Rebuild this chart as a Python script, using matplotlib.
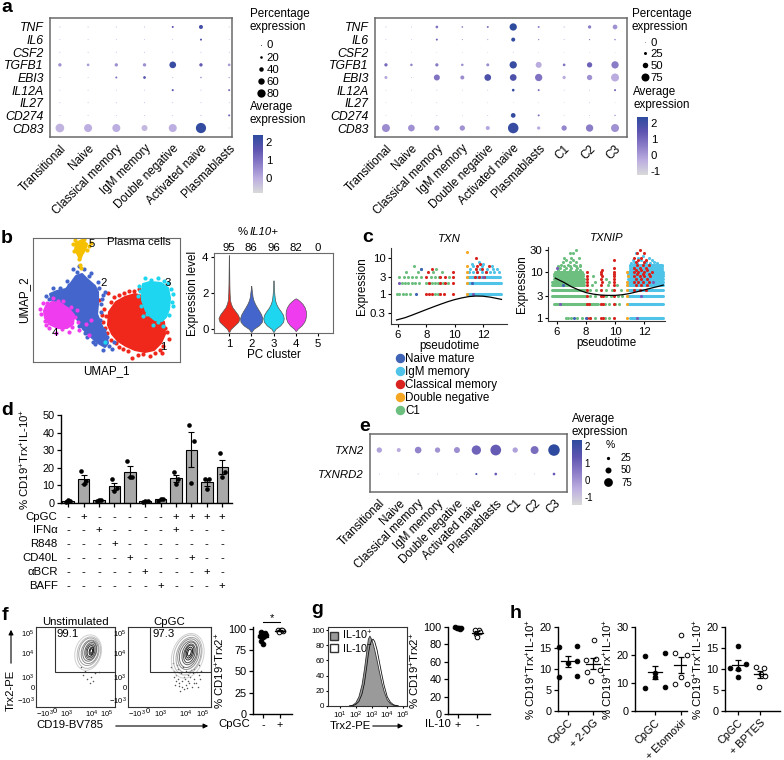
import numpy as np
import matplotlib
matplotlib.use('Agg')
import matplotlib.pyplot as plt
import matplotlib.transforms as mtransforms
from matplotlib.colors import LinearSegmentedColormap, Normalize
from matplotlib.cm import ScalarMappable
from matplotlib.patches import Ellipse, Polygon, Rectangle, Patch, FancyArrowPatch
from matplotlib.lines import Line2D
from matplotlib.ticker import NullLocator

plt.rcParams['font.family'] = ['Liberation Sans', 'DejaVu Sans']
plt.rcParams['mathtext.fontset'] = 'custom'
plt.rcParams['mathtext.rm'] = 'Liberation Sans'
plt.rcParams['mathtext.it'] = 'Liberation Sans:italic'
plt.rcParams['mathtext.bf'] = 'Liberation Sans:bold'
plt.rcParams['axes.unicode_minus'] = False
plt.rcParams['font.size'] = 8.2

# ---------------- data ----------------
cells7 = ['Transitional', 'Naive', 'Classical memory', 'IgM memory',
          'Double negative', 'Activated naive', 'Plasmablasts']
cells10 = cells7 + ['C1', 'C2', 'C3']
genes_a = ['TNF', 'IL6', 'CSF2', 'TGFB1', 'EBI3', 'IL12A', 'IL27', 'CD274', 'CD83']

# panel a (left): percentage expressing / average expression
a1_pct = [
    [2, 2, 2, 2, 14, 35, 2],
    [1, 1, 1, 1, 1, 14, 1],
    [1, 1, 1, 1, 1, 1, 1],
    [28, 21, 28, 28, 63, 28, 21],
    [1, 1, 14, 21, 2, 8, 6],
    [1, 1, 1, 1, 14, 2, 14],
    [1, 1, 1, 1, 1, 1, 1],
    [1, 1, 1, 1, 1, 2, 14],
    [84, 77, 77, 56, 77, 100, 3],
]
a1_avg = [
    [0.3, 0.3, 0.3, 0.3, 1.5, 2.0, 0.3],
    [0.3, 0.3, 0.3, 0.3, 0.3, 1.8, 0.3],
    [0.5, 0.5, 0.5, 0.5, 0.5, 0.5, 0.5],
    [0.5, 0.3, 0.5, 0.5, 2.2, 1.5, 0.3],
    [0.3, 0.3, 1.0, 1.8, 0.3, 0.8, 0.5],
    [0.3, 0.3, 0.3, 0.3, 1.8, 0.3, 1.2],
    [0.5, 0.5, 0.5, 0.5, 0.5, 0.5, 0.5],
    [0.3, 0.3, 0.3, 0.3, 0.3, 0.5, 1.3],
    [-0.1, 0.0, 0.0, -0.2, 0.0, 2.3, -0.3],
]
a1_size_legend = [0, 20, 40, 60, 80]

# panel a (right)
a2_pct = [
    [3, 3, 22, 12, 15, 68, 15, 5, 28, 42],
    [2, 2, 15, 5, 5, 35, 8, 3, 8, 10],
    [1, 1, 1, 1, 1, 2, 1, 1, 1, 1],
    [28, 20, 28, 20, 25, 68, 55, 22, 48, 68],
    [25, 3, 55, 35, 62, 62, 68, 28, 48, 75],
    [2, 2, 3, 2, 3, 22, 15, 3, 3, 15],
    [1, 1, 2, 1, 1, 1, 1, 1, 3, 1],
    [2, 1, 3, 2, 3, 42, 15, 2, 3, 8],
    [75, 62, 48, 48, 35, 100, 28, 48, 68, 75],
]
a2_avg = [
    [0.5, 0.2, 0.8, 0.5, 0.8, 2.4, 0.5, 0.2, 0.6, 0.2],
    [0.5, 0.3, 1.2, 0.5, 0.3, 2.3, 0.5, 0.3, 0.5, 0.5],
    [0.0, 0.0, 0.0, 0.0, 0.0, 0.5, 0.0, 0.0, 0.0, 0.0],
    [1.0, 0.5, 0.6, 0.3, 0.3, 2.2, -0.3, 0.8, 1.2, 0.6],
    [-0.2, 0.0, 0.8, 0.3, 1.8, 1.8, 0.8, -0.3, 0.2, -0.3],
    [0.0, 0.0, 0.0, 0.0, 0.0, 2.2, 1.0, 0.0, 0.0, 1.2],
    [0.0, 0.0, 0.0, 0.0, 0.0, 0.0, 0.0, 0.0, 0.0, 0.0],
    [0.0, 0.0, 0.0, 0.0, 0.0, 2.3, 0.8, 0.0, 0.0, 0.5],
    [0.3, 0.2, 0.3, 0.2, -0.2, 2.2, -0.3, 0.4, 0.6, 0.2],
]
a2_size_legend = [0, 25, 50, 75]

# panel b: UMAP cluster outlines and outlying cells (UMAP units)
umap_colors = ['#f0281c', '#4466cc', '#1ed6ef', '#ee3cee', '#f5c000']
umap_hulls = [
    [(7.6, 5.0), (8.3, 6.0), (9.2, 6.5), (10.2, 6.8), (11.2, 6.5), (11.7, 6.0), (12.2, 5.1),
     (12.7, 4.4), (13.1, 4.0), (13.2, 2.8), (12.8, 1.9), (12.1, 1.2), (11.2, 1.0), (10.2, 1.2),
     (9.3, 1.6), (8.5, 2.1), (7.9, 2.8), (7.5, 3.7)],
    [(4.3, 8.6), (4.9, 8.8), (5.4, 8.3), (6.2, 7.6), (6.5, 7.0), (6.5, 5.8), (6.4, 4.8),
     (6.8, 3.8), (7.3, 2.8), (7.5, 1.9), (7.2, 1.5), (6.5, 1.9), (5.7, 2.6), (5.0, 3.3),
     (4.4, 4.3), (3.8, 5.2), (2.8, 5.8), (1.9, 6.2), (1.7, 6.8), (2.4, 7.1), (3.3, 7.3), (3.8, 7.9)],
    [(11.0, 7.8), (11.7, 8.0), (12.8, 7.9), (13.5, 7.4), (13.7, 6.4), (13.6, 5.3), (13.3, 4.5),
     (12.9, 4.1), (12.2, 4.2), (11.7, 4.6), (11.3, 5.1), (10.9, 6.2), (10.9, 7.1)],
    [(1.3, 5.6), (1.9, 6.0), (2.7, 5.9), (3.6, 5.3), (4.1, 4.7), (4.0, 3.8), (3.4, 3.4),
     (2.5, 3.4), (1.6, 3.8), (1.2, 4.4), (1.1, 5.1)],
    [(4.3, 11.9), (4.9, 12.2), (5.4, 11.8), (5.2, 11.2), (4.9, 10.7), (4.7, 10.2), (4.5, 10.7), (4.2, 11.2)],
]
umap_cells = [
    [(7.0, 4.0), (7.1, 5.3), (7.8, 6.0), (8.6, 6.7), (9.6, 7.1), (10.6, 7.3), (11.6, 6.9), (12.5, 4.7),
     (13.2, 3.4), (13.6, 2.3), (12.7, 1.2), (11.7, 0.6), (10.5, 0.7), (9.5, 1.1), (8.6, 1.5), (7.8, 2.2),
     (6.9, 4.7), (6.6, 6.2), (7.5, 6.9), (9.9, 0.4), (12.9, 0.9), (8.0, 3.0), (7.3, 4.6), (8.1, 6.5),
     (9.1, 6.9), (10.1, 7.1), (11.0, 0.8), (12.2, 0.9), (13.4, 3.0), (13.0, 1.6), (8.3, 1.9), (7.4, 2.9),
     (9.0, 1.3), (11.9, 6.4), (12.3, 5.4), (7.2, 3.4)],
    [(6.9, 6.3), (7.2, 7.0), (6.5, 8.0), (5.8, 8.9), (4.0, 9.3), (3.4, 8.1), (2.0, 7.4), (1.3, 6.6),
     (5.2, 2.9), (6.0, 2.0), (7.0, 1.2), (7.9, 1.3), (8.1, 2.0), (7.1, 3.2), (6.2, 4.6), (2.6, 5.1),
     (3.2, 4.7), (4.6, 9.6), (5.1, 9.3), (6.8, 5.0), (6.6, 7.4), (5.6, 8.6), (4.4, 9.0), (3.6, 7.7),
     (2.7, 7.4), (1.6, 6.3), (2.3, 6.0), (6.7, 4.2), (7.4, 2.5), (7.6, 1.6), (6.2, 1.8), (5.4, 2.5),
     (4.6, 3.6), (4.0, 4.6), (6.8, 5.8), (7.0, 6.7)],
    [(10.6, 7.6), (11.2, 8.4), (12.5, 8.4), (13.5, 7.9), (14.0, 6.8), (14.0, 5.6), (13.0, 3.6),
     (12.0, 3.7), (11.0, 4.6), (10.5, 6.6), (7.2, 2.0), (10.8, 5.6), (11.8, 8.2), (13.1, 8.1),
     (13.8, 7.3), (13.9, 6.0), (13.6, 4.7), (12.5, 4.0), (11.4, 4.8), (10.7, 7.1)],
    [(0.8, 4.8), (1.0, 5.9), (1.6, 3.4), (2.3, 2.9), (3.6, 3.0), (4.5, 4.0), (4.6, 3.2), (5.3, 3.8),
     (5.8, 4.2), (4.4, 5.2), (5.6, 2.7), (0.7, 5.3), (2.0, 6.4), (3.0, 6.1), (1.2, 4.1), (1.3, 3.7),
     (2.9, 3.3), (3.9, 3.5), (4.2, 4.5), (3.8, 5.5), (2.5, 6.1), (1.4, 5.9)],
    [(4.0, 11.8), (5.6, 11.6), (4.7, 9.7), (4.8, 9.4), (5.8, 11.9), (4.6, 10.3), (4.2, 12.2),
     (5.1, 12.3), (5.4, 11.2), (4.1, 11.1)],
]
umap_labels = ['1', '2', '3', '4', '5']
umap_label_pos = [(13.0, 1.5), (7.1, 7.9), (13.5, 7.9), (2.2, 2.9), (5.9, 11.8)]

# panel b: violins of IL10 expression per PC cluster (half-width profiles)
pc_clusters = ['1', '2', '3', '4', '5']
il10_pct = [95, 86, 96, 82, 0]
vio_y = [[-0.15, 0.0, 0.2, 0.4, 0.6, 0.8, 1.0, 1.2, 1.4, 1.6, 2.0, 2.5, 3.0, 3.5, 4.1],
         [-0.15, 0.0, 0.2, 0.4, 0.6, 0.8, 1.0, 1.2, 1.4, 1.6, 1.8, 2.0, 2.2, 2.4],
         [-0.15, 0.0, 0.2, 0.4, 0.6, 0.8, 1.0, 1.2, 1.4, 1.6, 1.9, 2.2, 2.5, 2.7],
         [-0.1, 0.0, 0.2, 0.4, 0.6, 0.8, 1.0, 1.2, 1.4, 1.55, 1.65, 1.7]]
vio_w = [[0.02, 0.08, 0.25, 0.42, 0.47, 0.40, 0.28, 0.16, 0.09, 0.05, 0.03, 0.02, 0.015, 0.01, 0.005],
         [0.02, 0.10, 0.34, 0.48, 0.50, 0.45, 0.36, 0.26, 0.17, 0.10, 0.06, 0.04, 0.02, 0.005],
         [0.02, 0.08, 0.30, 0.43, 0.46, 0.42, 0.32, 0.20, 0.12, 0.07, 0.04, 0.02, 0.01, 0.005],
         [0.02, 0.07, 0.26, 0.38, 0.44, 0.46, 0.45, 0.40, 0.30, 0.18, 0.08, 0.01]]

# panel c: pseudotime vs expression (level -> pseudotime values), dense rows as spans
ctypes = ['Naive mature', 'IgM memory', 'Classical memory', 'Double negative', 'C1']
ccolors = ['#3f63b5', '#4fc3e8', '#d9231f', '#f5a623', '#6dbf80']
purple_c = '#7a5cb8'
txn_green = {1: [5.9, 6.1, 6.35, 6.6, 6.85, 8.6, 8.8], 2: [6.3, 6.5, 6.7, 7.0, 7.2, 7.5, 8.0, 8.2, 8.4, 8.6, 8.8, 9.0, 9.2, 9.5],
             3: [6.1, 6.4, 6.7, 7.0, 7.3, 7.6, 8.3, 8.6, 8.9, 9.6], 4: [6.6, 7.4, 8.5, 9.1], 5: [7.6, 8.7], 6: [7.1]}
txn_red = {1: [8.0, 8.2, 8.4, 9.0, 9.25, 9.9], 2: [8.2, 8.95, 9.3, 9.9], 3: [8.0, 9.0, 9.3, 9.9, 11.4, 11.7, 12.1],
           4: [8.1, 9.9, 11.6, 12.2], 5: [8.4, 11.5, 11.9], 6: [11.6, 12.4], 7: [11.8], 10: [11.5]}
txn_cyan_span = [(1, 10.9, 13.3), (2, 10.9, 13.3), (3, 10.9, 13.2)]
txn_cyan = {4: [11.0, 11.3, 11.6, 11.9, 12.2, 12.5, 12.8, 13.1], 5: [11.1, 11.5, 11.8, 12.3, 12.7, 13.0],
            6: [11.3, 11.9, 12.6], 7: [11.2, 12.0], 8: [11.7]}
txn_yellow = {1: [10.85], 2: [10.85], 3: [10.85], 4: [10.85], 6: [10.9], 15: [10.85]}
txn_blue = {1: [7.25], 5: [7.6], 2: [11.2]}
txn_purple = {2: [6.1], 1: [11.3], 3: [12.0]}
txn_fit_x = [5.9, 6.5, 7.0, 7.5, 8.0, 8.5, 9.0, 9.5, 10.0, 10.5, 11.0, 11.5, 12.0, 12.5, 13.0, 13.3]
txn_fit_y = [0.19, 0.22, 0.26, 0.31, 0.37, 0.44, 0.52, 0.61, 0.70, 0.78, 0.85, 0.88, 0.87, 0.82, 0.75, 0.71]

txnip_green_span = [(2, 5.8, 8.8), (3, 5.7, 8.0), (4, 5.7, 8.0), (5, 5.7, 7.9), (6, 5.7, 7.9),
                    (7, 5.8, 7.9), (8, 5.8, 7.8), (9, 5.8, 7.8), (10, 5.9, 7.7)]
txnip_green = {1: [6.6, 6.8, 7.0, 7.4, 7.7, 8.3, 8.6, 9.3, 9.6], 2: [9.0, 9.3, 9.6, 10.0, 10.3],
               3: [8.3, 8.6, 9.4, 9.7, 10.2, 10.5], 4: [8.3, 8.7, 9.4, 9.8, 10.4], 5: [8.4, 9.5, 10.1],
               6: [8.6, 9.6], 7: [9.4], 8: [8.5], 11: [6.1, 6.5, 6.9, 7.3, 7.6], 12: [6.2, 6.6, 7.0, 7.4],
               13: [6.1, 6.5, 6.9, 7.3, 7.6], 14: [6.3, 6.8, 7.2, 7.6], 16: [6.4, 6.9, 7.3], 18: [6.6, 7.1],
               20: [6.5, 7.0, 7.5], 25: [6.9, 7.1], 30: [7.3]}
txnip_cyan_span = [(1, 11.0, 13.3), (2, 10.9, 13.3), (3, 10.9, 13.3), (4, 10.9, 13.3), (5, 10.9, 13.3),
                   (6, 10.9, 13.3), (7, 10.9, 13.3), (8, 10.9, 13.3), (9, 10.9, 13.3), (10, 10.9, 13.3),
                   (11, 11.0, 13.2), (12, 11.0, 13.2), (13, 11.0, 13.2), (14, 11.0, 13.2)]
txnip_cyan = {15: [11.1, 11.5, 12.0, 12.4, 12.9], 16: [11.3, 12.1, 12.7], 18: [11.2, 11.8, 12.5],
              20: [11.6, 12.3], 22: [11.9], 25: [11.4]}
txnip_red = {1: [8.05, 8.3, 9.0, 9.2, 9.95], 2: [8.05, 8.2, 9.0, 9.15, 9.95], 3: [8.05, 9.0, 9.2, 9.95],
             4: [8.05, 9.05, 9.95, 11.3, 11.7, 12.1], 5: [8.05, 9.0, 9.95, 11.4, 11.8, 12.2],
             6: [8.1, 9.1, 9.95, 11.3, 11.6, 11.9, 12.3], 7: [8.05, 9.0, 9.95, 11.4, 11.8, 12.2],
             8: [8.05, 9.1, 9.95, 11.3, 11.7, 12.0, 12.4], 9: [9.0, 9.95, 11.5, 11.9, 12.3],
             10: [8.1, 9.05, 9.95, 11.3, 11.6, 12.0, 12.5], 11: [9.1, 11.4, 11.8, 12.2],
             12: [9.9, 11.3, 11.7, 12.1], 14: [11.5, 11.9, 12.3], 16: [11.4, 12.0], 18: [9.95, 11.6, 12.1],
             20: [11.3, 11.8], 25: [11.5, 12.0], 30: [11.7]}
txnip_yellow = {1: [10.8], 2: [10.8], 3: [10.8], 4: [10.8], 5: [10.8], 6: [10.8], 8: [10.85], 10: [10.8]}
txnip_blue = {1: [7.2, 8.0], 5: [6.4]}
txnip_purple = {2: [6.2], 1: [11.5], 12: [6.0], 3: [11.8], 6: [12.6]}
txnip_fit_x = [5.9, 6.5, 7.0, 7.5, 8.0, 8.5, 9.0, 9.5, 10.0, 10.5, 11.0, 11.5, 12.0, 12.5, 13.0, 13.3]
txnip_fit_y = [7.2, 5.8, 4.7, 4.0, 3.5, 3.25, 3.1, 3.05, 3.05, 3.15, 3.35, 3.65, 4.0, 4.4, 4.8, 5.1]

# panel d
d_bar = [1.3, 13.5, 1.5, 9.5, 17.8, 1.0, 2.0, 14.0, 30.3, 11.7, 20.4]
d_err = [0.3, 2.5, 0.2, 2.0, 3.1, 0.1, 0.4, 2.0, 10.0, 1.9, 4.0]
d_pts = [[0.8, 1.4, 1.7], [18.2, 12.5, 11.0], [1.2, 1.5, 1.8], [13.4, 8.3, 7.0], [24.0, 15.0, 14.5],
         [0.8, 1.0, 1.2], [1.3, 2.2, 2.5], [17.8, 13.5, 11.0], [44.3, 35.4, 11.5], [13.8, 13.4, 7.8],
         [28.2, 17.8, 15.0]]
cond_names = ['CpGC', 'IFNα', 'R848', 'CD40L', 'αBCR', 'BAFF']
cond_table = ['-+-----++++',
              '--+----+---',
              '---+-------',
              '----+---+--',
              '-----+---+-',
              '------+---+']

# panel e
genes_e = ['TXN2', 'TXNRD2']
e_pct = [[44, 32, 56, 44, 50, 80, 93, 44, 68, 100],
         [2, 1, 3, 2, 1, 14, 20, 1, 2, 20]]
e_avg = [[-0.3, -0.5, 0.3, 0.0, 0.1, 1.0, 1.2, -0.3, 0.8, 2.3],
         [0.3, 0.0, 0.3, 0.3, 0.0, 1.8, 1.2, 0.0, 0.3, 1.2]]
e_size_legend = [25, 50, 75]

# panel f
f_gate = ['99.1', '97.3']
f_unstim = [96, 95, 93, 92, 90, 86, 82]
f_cpgc = [99, 98, 97, 96, 98]
flow_ticks = [11, 24, 39, 70, 90]
flow_ticklabels = ['$-10^3$', '0', '$10^3$', '$10^4$', '$10^5$']
flow_yticks = [9, 25, 37, 67, 92]
# contour levels: (width, height, cx, cy)
f1_levels = [(33, 45, 66, 68), (29, 40, 67, 68), (25, 35, 67, 69), (21, 30, 68, 69), (17, 26, 68, 70),
             (14, 22, 69, 70), (11, 18, 69, 70), (8, 14, 69, 70), (5, 10, 70, 70), (3, 6, 70, 70)]
f2_levels = [(38, 57, 72, 64), (33, 51, 72, 65), (29, 45, 73, 65), (25, 39, 73, 66), (21, 34, 73, 66),
             (17, 29, 74, 67), (13, 24, 74, 67), (10, 19, 74, 68), (7, 14, 74, 68), (4, 9, 74, 68)]
f1_events = [(60, 40), (65, 35), (70, 38), (75, 42), (62, 45), (68, 30), (80, 44), (57, 50), (72, 33)]
f2_events = [(52, 50), (55, 45), (58, 40), (60, 35), (62, 30), (57, 28), (65, 25), (68, 22), (70, 28), (72, 33),
             (75, 38), (78, 42), (80, 35), (82, 30), (85, 40), (88, 45), (86, 52), (54, 55), (60, 48), (64, 42),
             (67, 38), (70, 45), (74, 30), (77, 25), (63, 20), (58, 33), (66, 50), (84, 25), (80, 48), (72, 40),
             (56, 38), (61, 26), (69, 35), (76, 46), (83, 44), (59, 52), (71, 24), (79, 30), (87, 35), (65, 32)]

# panel g
g_logx = [1.6, 1.8, 2.0, 2.2, 2.4, 2.55, 2.7, 2.8, 2.9, 3.0, 3.1, 3.2, 3.35, 3.5, 3.65, 3.8, 4.0, 4.2, 4.4, 4.7]
g_hist_pos = [0, 1, 4, 12, 28, 48, 72, 88, 92, 88, 82, 74, 60, 45, 31, 19, 8, 3, 1, 0]
g_hist_neg = [0, 0.5, 2, 6, 16, 30, 52, 68, 80, 86, 88, 85, 74, 58, 42, 27, 12, 5, 1.5, 0]
g_pos = [99.5, 99.2, 99.0, 98.8, 98.5, 98.2]
g_neg = [97, 96, 94, 92, 89]

# panel h
h_labels = [['CpGC', '+ 2-DG'], ['CpGC', '+ Etomoxir'], ['CpGC', '+ BPTES']]
h_ctrl = [[15.2, 15.5, 12.0, 11.5, 8.2, 8.4],
          [19.8, 20.6, 12.0, 13.5, 8.2, 8.5],
          [15.5, 11.1, 10.2, 10.0, 8.2]]
h_trt = [[16.8, 12.2, 12.4, 9.4, 9.8, 7.2],
         [27.0, 20.6, 20.0, 9.8, 9.8, 12.2],
         [10.4, 10.2, 8.9, 8.4, 5.6]]
h_ymax = [20, 30, 20]
h_ystep = [5, 10, 5]

# ---------------- figure helpers ----------------
W, H = 784, 760
fig = plt.figure(figsize=(W / 100, H / 100), dpi=100)
cmap = LinearSegmentedColormap.from_list('avg', ['#d9d9d9', '#bcaee0', '#8c7dc8', '#5d54b0', '#2e4b9e'])


def P(x, y):
    return (x / W, 1 - y / H)


def add_ax(x0, y0, x1, y1):
    return fig.add_axes([x0 / W, 1 - y1 / H, (x1 - x0) / W, (y1 - y0) / H])


def ftext(x, y, s, **kw):
    fig.text(x / W, 1 - y / H, s, **kw)


def arrow(x0, y0, x1, y1):
    fig.add_artist(FancyArrowPatch(P(x0, y0), P(x1, y1), transform=fig.transFigure,
                                   arrowstyle='-|>', mutation_scale=7, lw=0.8, color='k'))


def msize(p, d0, d1):
    return (0.72 * (d0 + d1 * np.asarray(p, dtype=float))) ** 2


def dot_axes(ax, pct, avg, genes, cells, norm, d0, d1, xlim, ylim, gfs=8.8, cfs=8.5):
    pct = np.asarray(pct, dtype=float)
    avg = np.asarray(avg, dtype=float)
    yy, xx = np.indices(pct.shape)
    ax.scatter(xx.ravel(), yy.ravel(), s=msize(pct.ravel(), d0, d1), c=avg.ravel(),
               cmap=cmap, norm=norm, linewidths=0)
    ax.set_xticks(range(len(cells)))
    ax.set_xticklabels(cells, rotation=45, ha='right', rotation_mode='anchor', fontsize=cfs)
    ax.set_yticks(range(len(genes)))
    ax.set_yticklabels(genes, fontstyle='italic', fontsize=gfs)
    ax.set_xlim(*xlim)
    ax.set_ylim(*ylim)
    ax.tick_params(axis='y', length=0, pad=4.5)
    ax.tick_params(axis='x', length=0, pad=4)
    for sp in ax.spines.values():
        sp.set_color('#6a6a6a')
        sp.set_linewidth(1.1)


def colorbar(rect, norm, ticks, fs=8.2):
    cax = add_ax(*rect)
    cb = fig.colorbar(ScalarMappable(norm=norm, cmap=cmap), cax=cax, ticks=ticks)
    cb.outline.set_visible(False)
    cax.tick_params(length=0, labelsize=fs, pad=2)
    cb.set_ticklabels([str(t) for t in ticks])


def size_legend(vals, d0, d1, anchor, fs, hl, htp, ls):
    handles = [Line2D([], [], ls='', marker='o', color='k', markeredgewidth=0,
                      markersize=0.72 * (d0 + d1 * v)) for v in vals]
    fig.legend(handles, [str(v) for v in vals], loc='upper left', bbox_to_anchor=P(*anchor),
               frameon=False, fontsize=fs, handlelength=hl, handletextpad=htp, labelspacing=ls,
               borderpad=0, borderaxespad=0)


def prism(ax):
    for s in ['top', 'right']:
        ax.spines[s].set_visible(False)
    for s in ['left', 'bottom']:
        ax.spines[s].set_linewidth(1.0)
        ax.spines[s].set_color('k')
    ax.tick_params(length=3, width=0.9, labelsize=7.8, pad=1.5)


def level_scatter(ax, dct, color, s=5):
    xs = [x for lvl, v in dct.items() for x in v]
    ys = [lvl for lvl, v in dct.items() for x in v]
    ax.scatter(xs, ys, s=s, c=color, linewidths=0, zorder=2)


def level_spans(ax, spans, color):
    for lvl, x0, x1 in spans:
        ax.plot([x0, x1], [lvl, lvl], color=color, lw=2.2, solid_capstyle='round', zorder=2)


def group_dots(ax, i, vals, offs, filled, s=11):
    vals = np.asarray(vals, dtype=float)
    ax.scatter(i + np.asarray(offs), vals, s=s, facecolor='k' if filled else 'white',
               edgecolor='k', linewidths=0.7, zorder=3, clip_on=False)
    m = vals.mean()
    se = vals.std(ddof=1) / np.sqrt(len(vals))
    ax.plot([i - 0.28, i + 0.28], [m, m], color='k', lw=0.9, zorder=4)
    ax.errorbar(i, m, yerr=se, color='k', lw=0.9, capsize=2.5, capthick=0.9, zorder=4)


# ---------------- panel letters ----------------
for lab, x, y in [('a', 1, 11.5), ('b', 1, 243), ('c', 362, 242), ('d', 1, 415),
                  ('e', 359, 431), ('f', 2, 620), ('g', 311, 614), ('h', 510, 618)]:
    ftext(x, y, lab, fontsize=14, fontweight='bold', va='baseline')

# ---------------- panel a ----------------
norm_a1 = Normalize(-0.8, 2.4)
ax = add_ax(50, 18, 232, 137)
dot_axes(ax, a1_pct, a1_avg, genes_a, cells7, norm_a1, 0.7, 0.095, (-0.35, 6.1), (8.71, -0.71))
ftext(250, 8, 'Percentage\nexpression', va='top', fontsize=8.4, linespacing=1.1)
size_legend(a1_size_legend, 0.7, 0.095, (253, 40.5), 8.2, 1.44, -0.27, 0.18)
ftext(250, 101, 'Average\nexpression', va='top', fontsize=8.4, linespacing=1.1)
colorbar((253, 135, 263, 193), norm_a1, [0, 1, 2])

norm_a2 = Normalize(-1.25, 2.4)
ax = add_ax(375, 18, 627, 137)
dot_axes(ax, a2_pct, a2_avg, genes_a, cells10, norm_a2, 0.5, 0.1, (-0.43, 9.47), (8.71, -0.71))
ftext(632, 8, 'Percentage\nexpression', va='top', fontsize=8.4, linespacing=1.1)
size_legend(a2_size_legend, 0.5, 0.1, (637, 37.5), 8.2, 1.44, -0.27, 0.16)
ftext(633, 86, 'Average\nexpression', va='top', fontsize=8.4, linespacing=1.1)
colorbar((637, 117, 648, 175), norm_a2, [-1, 0, 1, 2])

# ---------------- panel b ----------------
ax = add_ax(33, 238, 180, 362)
for hull, pts, col in zip(umap_hulls, umap_cells, umap_colors):
    ax.add_patch(Polygon(hull, closed=True, facecolor=col, edgecolor=col, lw=1.5, joinstyle='round'))
    ax.scatter([p[0] for p in pts], [p[1] for p in pts], s=9, c=col, linewidths=0)
for lab, (x, y) in zip(umap_labels, umap_label_pos):
    ax.text(x, y, lab, fontsize=8.2, ha='center', va='center')
ax.text(7.4, 12.0, 'Plasma cells', fontsize=8.2, va='center')
ax.set_xlim(0, 14.7)
ax.set_ylim(0, 12.4)
ax.set_xticks([])
ax.set_yticks([])
for sp in ax.spines.values():
    sp.set_color('#6a6a6a')
ax.set_xlabel('UMAP_1', fontsize=8.4, labelpad=2)
ax.set_ylabel('UMAP_2', fontsize=8.4, labelpad=2)

ax = add_ax(214, 253, 333, 333)
for k, (yv, wv) in enumerate(zip(vio_y, vio_w)):
    yv = np.asarray(yv)
    wv = np.asarray(wv)
    ax.fill_betweenx(yv, k + 1 - wv, k + 1 + wv, facecolor=umap_colors[k], edgecolor='#555555', lw=0.5)
ax.set_xlim(0.33, 5.67)
ax.set_ylim(-0.22, 4.22)
ax.set_xticks(range(1, 6))
ax.set_xticklabels(pc_clusters)
ax.set_yticks([0, 2, 4])
ax.tick_params(length=2, labelsize=8.2, pad=2)
for sp in ax.spines.values():
    sp.set_color('#6a6a6a')
ax.set_xlabel('PC cluster', fontsize=8.4, labelpad=0)
ax.set_ylabel('Expression level', fontsize=8.4, labelpad=2)
tr = mtransforms.blended_transform_factory(ax.transData, ax.transAxes)
for k, v in enumerate(il10_pct):
    ax.text(k + 1, 1.0, str(v), transform=tr, ha='center', va='bottom', fontsize=8.2)
ftext(238, 232, '%', fontsize=8.2, va='center')
ftext(250, 232, 'IL10+', fontsize=8.2, va='center', style='italic')

# ---------------- panel c ----------------
def pseudo_axes(rect, title, ylim, yticks, layers, fit):
    ax = add_ax(*rect)
    ax.set_yscale('log')
    for kind, data, col in layers:
        if kind == 'span':
            level_spans(ax, data, col)
        else:
            level_scatter(ax, data, col)
    ax.plot(fit[0], fit[1], color='k', lw=0.9, zorder=5)
    ax.set_ylim(*ylim)
    ax.set_yticks(yticks)
    ax.set_yticklabels([('%g' % t) for t in yticks])
    ax.yaxis.set_minor_locator(NullLocator())
    ax.set_xticks([6, 8, 10, 12])
    for s in ['top', 'right']:
        ax.spines[s].set_visible(False)
    for s in ['left', 'bottom']:
        ax.spines[s].set_color('#333333')
        ax.spines[s].set_linewidth(0.8)
    ax.tick_params(length=2.5, width=0.8, labelsize=8.2, pad=1.5)
    ax.set_xlabel('pseudotime', fontsize=8.4, labelpad=0)
    ax.set_ylabel('Expression', fontsize=8.4, labelpad=1)
    ax.set_title(title, fontsize=8.2, style='italic', pad=4)
    return ax


ax = pseudo_axes((391, 248, 507, 324), 'TXN', (0.147, 19), [0.3, 1, 3, 10],
                 [('pts', txn_green, ccolors[4]), ('span', txn_cyan_span, ccolors[1]),
                  ('pts', txn_cyan, ccolors[1]), ('pts', txn_yellow, ccolors[3]),
                  ('pts', txn_red, ccolors[2]), ('pts', txn_blue, ccolors[0]),
                  ('pts', txn_purple, purple_c)], (txn_fit_x, txn_fit_y))
ax.set_xlim(5.51, 13.69)

ax = pseudo_axes((548, 247, 665, 321), 'TXNIP', (0.85, 34), [1, 3, 10, 30],
                 [('span', txnip_green_span, ccolors[4]), ('pts', txnip_green, ccolors[4]),
                  ('span', txnip_cyan_span, ccolors[1]), ('pts', txnip_cyan, ccolors[1]),
                  ('pts', txnip_yellow, ccolors[3]), ('pts', txnip_red, ccolors[2]),
                  ('pts', txnip_blue, ccolors[0]), ('pts', txnip_purple, purple_c)],
                 (txnip_fit_x, txnip_fit_y))
ax.set_xlim(5.4, 13.42)

c_handles = [Line2D([], [], ls='', marker='o', color=c, markersize=5.8) for c in ccolors]
fig.legend(c_handles, ctypes, loc='upper left', bbox_to_anchor=P(395, 353), frameon=False,
           fontsize=8.4, handlelength=0.85, handletextpad=0.0, labelspacing=0.08, borderpad=0,
           borderaxespad=0)

# ---------------- panel d ----------------
ax = add_ax(61, 415, 232, 503)
xb = np.arange(len(d_bar))
ax.bar(xb, d_bar, width=0.75, color='#a8a8a8', edgecolor='k', lw=0.8, zorder=1)
ax.errorbar(xb, d_bar, yerr=d_err, fmt='none', ecolor='k', elinewidth=0.8, capsize=2.5, capthick=0.8, zorder=2)
offs = [-0.15, 0.15, 0.0]
for i, pts in enumerate(d_pts):
    ax.scatter(i + np.asarray(offs), pts, s=11, c='k', zorder=3, clip_on=False, linewidths=0)
ax.set_xlim(-0.46, 10.63)
ax.set_ylim(0, 50)
ax.set_yticks(range(0, 51, 10))
ax.set_xticks(xb)
ax.set_xticklabels([])
prism(ax)
ax.set_ylabel('% CD19$^{+}$Trx$^{+}$IL-10$^{+}$', fontsize=8.2)
ax.yaxis.set_label_coords(-0.17, 0.5)
tr = mtransforms.blended_transform_factory(ax.transData, ax.transAxes)
for r, (name, row) in enumerate(zip(cond_names, cond_table)):
    yf = (503 - [517, 530, 544, 558, 572, 586][r]) / 88
    ax.text(-0.02, yf, name, transform=ax.transAxes, ha='right', va='center', fontsize=8.2)
    for i, ch in enumerate(row):
        ax.text(i, yf, ch, transform=tr, ha='center', va='center', fontsize=8.2)

# ---------------- panel e ----------------
norm_e = Normalize(-1.5, 2.33)
ax = add_ax(370, 434, 567, 492)
dot_axes(ax, e_pct, e_avg, genes_e, cells10, norm_e, 0.5, 0.11, (-0.48, 9.67), (1.75, -0.67), gfs=8.2, cfs=8.4)
colorbar((572, 440, 582, 505), norm_e, [-1, 0, 1, 2], fs=7)
ftext(572, 413, 'Average\nexpression', va='top', fontsize=8.4, linespacing=1.1)
ftext(610, 445, '%', ha='center', va='center', fontsize=7.5)
size_legend(e_size_legend, 0.5, 0.11, (603, 453), 7, 1.1, 0.75, 0.25)

# ---------------- panel f ----------------
greys = ['#d0d0d0', '#bababa', '#a4a4a4', '#8e8e8e', '#787878', '#626262', '#4c4c4c', '#363636', '#202020', '#101010']
for k, (rect, levels, events, title, gx) in enumerate([
        ((36, 627, 115, 707), f1_levels, f1_events, 'Unstimulated', 24),
        ((128, 627, 211, 707), f2_levels, f2_events, 'CpGC', 27)]):
    ax = add_ax(*rect)
    ax.scatter([e[0] for e in events], [e[1] for e in events], s=1.2, c='#555555', linewidths=0)
    for (w, h, cx, cy), g in zip(levels, greys):
        ax.add_patch(Ellipse((cx, cy), w, h, angle=-15, fill=False, edgecolor=g, lw=0.7))
    ax.add_patch(Rectangle((gx, 44), 100 - gx, 56, fill=False, edgecolor='#333333', lw=0.8))
    ax.text(gx + 2, 97, f_gate[k], fontsize=8.2, va='top')
    ax.set_xlim(0, 100)
    ax.set_ylim(0, 100)
    ax.set_xticks(flow_ticks)
    ax.set_xticklabels(flow_ticklabels)
    ax.set_yticks(flow_yticks)
    ax.set_yticklabels(flow_ticklabels)
    ax.tick_params(length=0, labelsize=5.5, pad=1)
    for sp in ax.spines.values():
        sp.set_color('#333333')
    ax.set_title(title, fontsize=8.2, pad=1.5)
ftext(11, 690, 'Trx2-PE', rotation=90, ha='center', va='center', fontsize=8.2)
arrow(11, 666, 11, 627)
ftext(70, 725, 'CD19-BV785', ha='center', va='center', fontsize=8.2)
arrow(113, 726, 211, 726)

ax = add_ax(253, 627, 292, 714)
group_dots(ax, 0, f_unstim, [-0.12, 0.1, 0.18, -0.2, 0.02, -0.1, 0.0], True)
group_dots(ax, 1, f_cpgc, [-0.15, 0.05, 0.2, -0.05, 0.12], False)
ax.set_xlim(-0.59, 1.7)
ax.set_ylim(0, 102)
ax.set_yticks([0, 25, 50, 75, 100])
ax.set_xticks([0, 1])
ax.set_xticklabels(['-', '+'])
prism(ax)
ax.plot([0, 1], [108, 108], color='k', lw=0.8, clip_on=False)
ax.text(0.5, 107, '*', ha='center', va='bottom', fontsize=8.2)
ax.set_ylabel('% CD19$^{+}$Trx2$^{+}$', fontsize=8.2, labelpad=1)
ftext(250, 724, 'CpGC', ha='right', va='center', fontsize=8.2)

# ---------------- panel g ----------------
ax = add_ax(328, 627, 407, 706)
ax.fill_between(g_logx, 0, g_hist_pos, facecolor='#9a9a9a', edgecolor='none')
ax.plot(g_logx, g_hist_pos, color='#333333', lw=0.6)
ax.plot(g_logx, g_hist_neg, color='#111111', lw=0.6)
ax.set_xlim(0.24, 5.25)
ax.set_ylim(0, 104)
ax.set_xticks([1, 2, 3, 4, 5])
ax.set_xticklabels(['$10^1$', '$10^2$', '$10^3$', '$10^4$', '$10^5$'])
ax.set_yticks([0, 20, 40, 60, 80, 100])
ax.tick_params(length=1.5, labelsize=5.8, pad=1)
for sp in ax.spines.values():
    sp.set_color('#333333')
ax.legend([Patch(facecolor='#9a9a9a', edgecolor='#333333'), Patch(facecolor='white', edgecolor='#333333')],
          ['IL-10$^{+}$', 'IL-10$^{-}$'], loc='upper left', fontsize=7.8, frameon=False,
          handlelength=0.8, handleheight=0.8, handletextpad=0.3, borderaxespad=0.15, labelspacing=0.0,
          borderpad=0)
ftext(330, 726, 'Trx2-PE', va='center', fontsize=8.2)
arrow(370, 726, 406, 726)

ax = add_ax(448, 627, 490, 714)
group_dots(ax, 0, g_pos, [-0.15, -0.05, 0.05, 0.15, 0.0, 0.1], True)
group_dots(ax, 1, g_neg, [0.1, -0.12, 0.15, -0.05, 0.0], False)
ax.set_xlim(-0.52, 1.65)
ax.set_ylim(0, 100)
ax.set_yticks([0, 20, 40, 60, 80, 100])
ax.set_xticks([0, 1])
ax.set_xticklabels(['+', '-'])
prism(ax)
ax.set_ylabel('% CD19$^{+}$Trx2$^{+}$', fontsize=8.2, labelpad=1)
ftext(451, 724, 'IL-10', ha='right', va='center', fontsize=8.2)

# ---------------- panel h ----------------
h_rects = [(558, 627, 605, 711), (635, 627, 687, 711), (725, 627, 780, 711)]
h_xlims = [(-0.4, 1.48), (-0.77, 1.23), (-0.59, 1.91)]
ctrl_offs = [[-0.37, 0.37, 0.37, 0.0, -0.37, 0.37], [-0.37, 0.37, 0.0, 0.0, -0.37, 0.37], [0.0, 0.37, -0.37, 0.0, 0.0]]
trt_offs = [[0.04, -0.27, 0.1, -0.23, 0.27, -0.07], [0.0, -0.22, 0.22, -0.22, 0.22, 0.0], [-0.2, 0.2, 0.05, 0.25, -0.05]]
for k in range(3):
    ax = add_ax(*h_rects[k])
    group_dots(ax, 0, h_ctrl[k], ctrl_offs[k], True)
    group_dots(ax, 1, h_trt[k], trt_offs[k], False)
    ax.set_xlim(*h_xlims[k])
    ax.set_ylim(0, h_ymax[k])
    ax.set_yticks(range(0, h_ymax[k] + 1, h_ystep[k]))
    ax.set_xticks([0, 1])
    ax.set_xticklabels(h_labels[k], rotation=45, ha='right', rotation_mode='anchor', fontsize=8.2)
    prism(ax)
    ax.set_ylabel('% CD19$^{+}$Trx$^{+}$IL-10$^{+}$', fontsize=8.2, labelpad=1)

fig.savefig('out.png', dpi=100)
